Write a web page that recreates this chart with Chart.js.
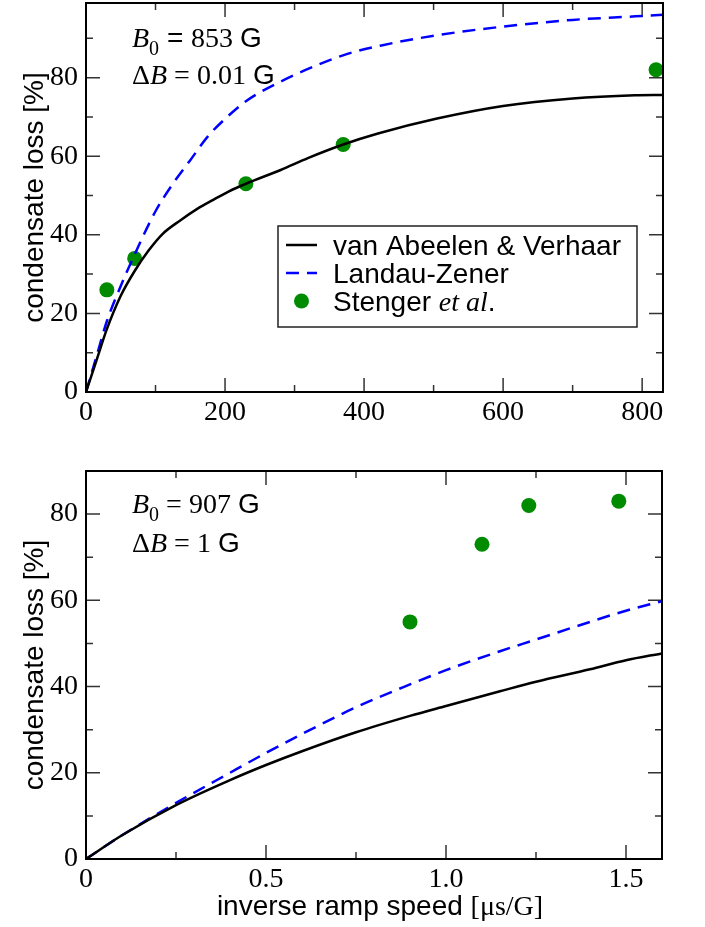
<!DOCTYPE html>
<html>
<head>
<meta charset="utf-8">
<script src="https://cdn.jsdelivr.net/npm/chart.js@4.4.1/dist/chart.umd.min.js"></script>
<style>
  html, body { margin: 0; padding: 0; background: #fff; }
  #wrap { position: relative; width: 705px; height: 927px; }
  canvas { position: absolute; left: 0; }
  #topChart { top: 0; }
  #bottomChart { top: 430px; }
</style>
</head>
<body>
<div id="wrap">
  <canvas id="topChart" width="705" height="430"></canvas>
  <canvas id="bottomChart" width="705" height="497"></canvas>
</div>
<script>
var seriesNames = ['van Abeelen & Verhaar', 'Landau-Zener', 'Stenger et al.'];

// top panel: B0 = 853 G, dB = 0.01 G  (x in us/G)
var topAbeelenX = [0, 15, 30, 50, 70, 90, 110, 135, 160, 183, 205, 230, 280, 320, 370, 420, 505, 600, 700, 790, 830];
var topAbeelenY = [0, 8, 16, 24.5, 30.8, 36, 40.2, 43.6, 46.6, 48.9, 51, 53, 56.5, 59.6, 63, 65.8, 69.6, 72.8, 74.7, 75.5, 75.6];
var topLZX = [0, 15, 30, 50, 70, 100, 125, 150, 175, 200, 230, 280, 330, 375, 425, 505, 600, 700, 790, 830];
var topLZY = [0, 9, 18, 27, 35, 46, 53, 59, 65, 69.5, 74, 79, 83, 86, 88.2, 90.8, 93, 94.7, 95.6, 96];
var topExpX = [30, 70, 230, 370, 820];
var topExpY = [26, 34, 53, 63, 82];
var topXTicks = [0, 200, 400, 600, 800];
var topXLabels = ['0', '200', '400', '600', '800'];
var topXMinor = [100, 300, 500, 700];

// bottom panel: B0 = 907 G, dB = 1 G
var botAbeelenX = [0, 0.1, 0.25, 0.4, 0.5, 0.6, 0.75, 0.9, 1.0, 1.15, 1.25, 1.4, 1.5, 1.6];
var botAbeelenY = [0, 5.5, 12.5, 18.3, 21.8, 25, 29.4, 33.2, 35.5, 38.9, 41.1, 44, 46.1, 47.7];
var botLZX = [0, 0.1, 0.25, 0.4, 0.5, 0.6, 0.75, 0.9, 1.0, 1.15, 1.25, 1.4, 1.5, 1.6];
var botLZY = [0, 5.5, 13, 20, 24.6, 29, 35.2, 40.5, 43.8, 48.2, 50.9, 55, 57.6, 59.8];
var botExpX = [0.9, 1.1, 1.23, 1.48];
var botExpY = [55, 73, 82, 83];
var botXTicks = [0, 0.5, 1.0, 1.5];
var botXLabels = ['0', '0.5', '1.0', '1.5'];
var botXMinor = [0.25, 0.75, 1.25];

var yTicks = [0, 20, 40, 60, 80];
var yLabels = ['0', '20', '40', '60', '80'];
var yMinor = [10, 30, 50, 70, 90];

var SANS = '"Liberation Sans", Arial, Helvetica, sans-serif';
var SERIF = '"Liberation Serif", "Times New Roman", Times, serif';
var GREEN = 'rgb(0,139,0)';

function pairs(xs, ys) {
    return xs.map(function (x, i) { return { x: x, y: ys[i] }; });
}

// draws rich text made of runs [text, font, dy]
function drawRuns(ctx, runs, x, y, align) {
    var w = 0;
    runs.forEach(function (r) { ctx.font = r[1]; w += ctx.measureText(r[0]).width; });
    var cx = align === 'center' ? x - w / 2 : x;
    runs.forEach(function (r) {
        ctx.font = r[1];
        ctx.fillText(r[0], cx, y + (r[2] || 0));
        cx += ctx.measureText(r[0]).width;
    });
}

// inward tick marks on all four sides plus the box
var frameTicks = {
    id: 'frameTicks',
    beforeDatasetsDraw: function (chart, args, o) {
        var ctx = chart.ctx, a = chart.chartArea;
        var xs = chart.scales.x, ys = chart.scales.y;
        ctx.save();
        ctx.strokeStyle = '#333';
        ctx.lineWidth = 1.5;
        ctx.beginPath();
        function xt(list, len) {
            list.forEach(function (v) {
                var px = xs.getPixelForValue(v);
                ctx.moveTo(px, a.bottom); ctx.lineTo(px, a.bottom - len);
                ctx.moveTo(px, a.top); ctx.lineTo(px, a.top + len);
            });
        }
        function yt(list, len) {
            list.forEach(function (v) {
                var py = ys.getPixelForValue(v);
                ctx.moveTo(a.left, py); ctx.lineTo(a.left + len, py);
                ctx.moveTo(a.right, py); ctx.lineTo(a.right - len, py);
            });
        }
        xt(o.xMajor, 14); xt(o.xMinor, 7);
        yt(o.yMajor, 14); yt(o.yMinor, 7);
        ctx.stroke();
        ctx.restore();
    },
    afterDatasetsDraw: function (chart) {
        var ctx = chart.ctx, a = chart.chartArea;
        ctx.save();
        ctx.strokeStyle = '#000';
        ctx.lineWidth = 2;
        ctx.strokeRect(a.left, a.top, a.right - a.left, a.bottom - a.top);
        ctx.restore();
    }
};

var richText = {
    id: 'richText',
    afterDraw: function (chart, args, o) {
        var ctx = chart.ctx, a = chart.chartArea;
        ctx.save();
        ctx.fillStyle = '#000';
        ctx.textBaseline = 'alphabetic';
        ctx.textAlign = 'left';
        o.items.forEach(function (it) {
            var x = it.align === 'center' ? (a.left + a.right) / 2 + (it.dx || 0) : a.left + it.dx;
            var y = it.from === 'bottom' ? a.bottom + it.dy : a.top + it.dy;
            drawRuns(ctx, it.runs, x, y, it.align);
        });
        ctx.restore();
    }
};

var boxLegend = {
    id: 'boxLegend',
    afterDraw: function (chart, args, o) {
        if (!o.show) return;
        var ctx = chart.ctx, a = chart.chartArea;
        var bx = a.left + o.dx, by = a.top + o.dy;
        ctx.save();
        ctx.fillStyle = '#fff';
        ctx.fillRect(bx, by, o.w, o.h);
        ctx.strokeStyle = '#222';
        ctx.lineWidth = 1.5;
        ctx.strokeRect(bx, by, o.w, o.h);
        chart.data.datasets.forEach(function (ds, i) {
            var ly = by + o.rowTop + i * o.rowGap;
            var sx = bx + 8, ex = bx + 39;
            if (ds.showLine === false) {
                ctx.fillStyle = ds.pointBackgroundColor;
                ctx.beginPath();
                ctx.arc((sx + ex) / 2, ly, ds.pointRadius, 0, Math.PI * 2);
                ctx.fill();
            } else {
                ctx.strokeStyle = ds.borderColor;
                ctx.lineWidth = ds.borderWidth;
                ctx.setLineDash(ds.borderDash || []);
                ctx.beginPath();
                ctx.moveTo(sx, ly); ctx.lineTo(ex, ly);
                ctx.stroke();
                ctx.setLineDash([]);
            }
            ctx.fillStyle = '#000';
            ctx.textBaseline = 'alphabetic';
            drawRuns(ctx, o.runs[i], bx + 55, ly + 10, 'left');
        });
        ctx.restore();
    }
};

function noPad(s) {
    s.paddingTop = 0; s.paddingBottom = 0; s.paddingLeft = 0; s.paddingRight = 0;
}

function makeChart(id, c) {
    return new Chart(document.getElementById(id), {
        type: 'line',
        data: {
            datasets: [{
                label: seriesNames[0],
                data: pairs(c.ax, c.ay),
                borderColor: '#000',
                borderWidth: 2.5,
                pointRadius: 0,
                cubicInterpolationMode: 'monotone',
                fill: false
            }, {
                label: seriesNames[1],
                data: pairs(c.lx, c.ly),
                borderColor: '#0000ff',
                borderWidth: 2.5,
                borderDash: [13, 8],
                pointRadius: 0,
                cubicInterpolationMode: 'monotone',
                fill: false
            }, {
                label: seriesNames[2],
                data: pairs(c.ex, c.ey),
                showLine: false,
                borderColor: GREEN,
                pointBackgroundColor: GREEN,
                pointBorderWidth: 0,
                pointRadius: 7.5
            }]
        },
        options: {
            responsive: false,
            animation: false,
            events: [],
            layout: { padding: c.padding, autoPadding: false },
            plugins: {
                legend: { display: false },
                tooltip: { enabled: false },
                frameTicks: { xMajor: c.xTicks, xMinor: c.xMinor, yMajor: yTicks, yMinor: yMinor },
                richText: { items: c.notes },
                boxLegend: c.legend
            },
            scales: {
                x: {
                    type: 'linear',
                    min: 0,
                    max: c.xMax,
                    grid: { display: false, drawTicks: false },
                    border: { display: false },
                    afterBuildTicks: function (s) { s.ticks = c.xTicks.map(function (v) { return { value: v }; }); },
                    afterFit: function (s) { s.height = c.xAxisH; noPad(s); },
                    ticks: {
                        autoSkip: false,
                        maxRotation: 0,
                        padding: 4,
                        color: '#000',
                        font: { family: SERIF, size: 28 },
                        callback: function (v) { return c.xLabels[c.xTicks.indexOf(v)]; }
                    }
                },
                y: {
                    min: 0,
                    max: c.yMax,
                    grid: { display: false, drawTicks: false },
                    border: { display: false },
                    afterBuildTicks: function (s) { s.ticks = yTicks.map(function (v) { return { value: v }; }); },
                    afterFit: function (s) { s.width = 86; noPad(s); },
                    ticks: {
                        padding: 8,
                        color: '#000',
                        font: { family: SERIF, size: 28 },
                        callback: function (v) { return yLabels[yTicks.indexOf(v)]; }
                    },
                    title: {
                        display: true,
                        text: 'condensate loss [%]',
                        color: '#000',
                        font: { family: SANS, size: 28 },
                        padding: { top: 18, bottom: 0 }
                    }
                }
            }
        },
        plugins: [frameTicks, richText, boxLegend]
    });
}

var F_I = 'italic 28px ' + SERIF, F_S = '28px ' + SERIF, F_SUB = '20px ' + SERIF, F_G = '28px ' + SANS;

makeChart('topChart', {
    ax: topAbeelenX, ay: topAbeelenY, lx: topLZX, ly: topLZY, ex: topExpX, ey: topExpY,
    xTicks: topXTicks, xLabels: topXLabels, xMinor: topXMinor,
    xMax: 830, yMax: 99, xAxisH: 38,
    padding: { top: 3, right: 42, left: 0, bottom: 0 },
    notes: [
        { dx: 46, dy: 44, runs: [['B', F_I], ['0', F_SUB, 8], [' = ', F_G], ['853 ', F_S], ['G', F_G]] },
        { dx: 46, dy: 81, runs: [['\u0394', F_S], ['B', F_I], [' = 0.01 ', F_S], ['G', F_G]] }
    ],
    legend: {
        show: true, dx: 192, dy: 223, w: 359, h: 101, rowTop: 19, rowGap: 28,
        runs: [
            [['van Abeelen & Verhaar', F_G]],
            [['Landau-Zener', F_G]],
            [['Stenger ', F_G], ['et al', F_I], ['.', F_G]]
        ]
    }
});

makeChart('bottomChart', {
    ax: botAbeelenX, ay: botAbeelenY, lx: botLZX, ly: botLZY, ex: botExpX, ey: botExpY,
    xTicks: botXTicks, xLabels: botXLabels, xMinor: botXMinor,
    xMax: 1.6, yMax: 90, xAxisH: 68,
    padding: { top: 41, right: 43, left: 0, bottom: 0 },
    notes: [
        { dx: 46, dy: 42, runs: [['B', F_I], ['0', F_SUB, 8], [' = 907 ', F_S], ['G', F_G]] },
        { dx: 46, dy: 81, runs: [['\u0394', F_S], ['B', F_I], [' = 1 ', F_S], ['G', F_G]] },
        { align: 'center', dx: 6, from: 'bottom', dy: 56, runs: [['inverse ramp speed ', F_G], ['[\u03bcs/G]', F_S]] }
    ],
    legend: { show: false }
});
</script>
</body>
</html>
